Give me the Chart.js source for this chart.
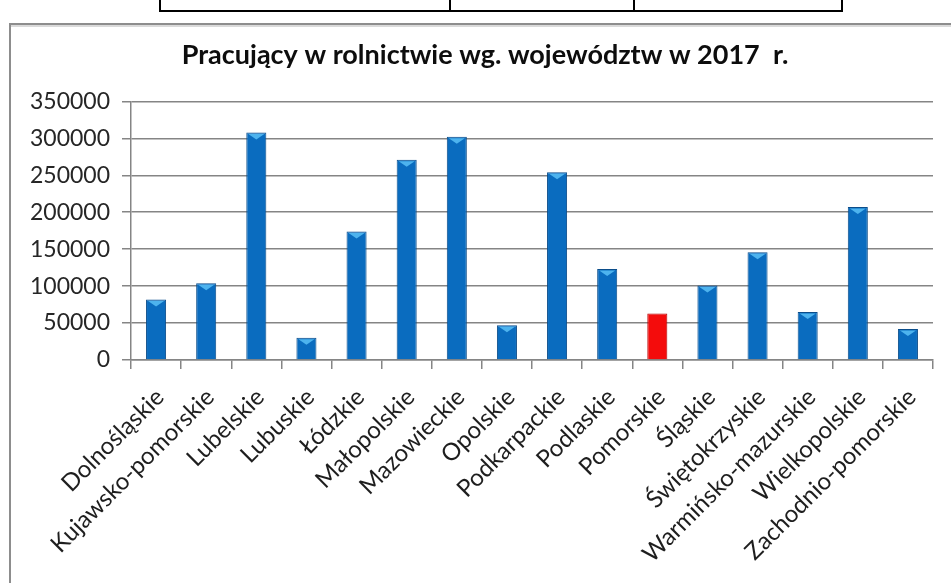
<!DOCTYPE html>
<html>
<head>
<meta charset="utf-8">
<script src="https://cdn.jsdelivr.net/npm/chart.js@4"></script>
<style>
  html, body { margin: 0; padding: 0; background: #fff; overflow: hidden; }
  .page { width: 951px; height: 583px; position: relative; overflow: hidden; }
  .tbl { position: absolute; top: 0; left: 159px; width: 680px; height: 10px;
         border: 2px solid #000; border-top: none; }
  .vl { position: absolute; top: 0; width: 2px; height: 12px; background: #000; }
  .frame-top { position: absolute; left: 9px; top: 23px; width: 942px; height: 2px;
               background: #8d8d8d; border-bottom: 2px solid #dadada; }
  .frame-left { position: absolute; left: 9px; top: 23px; width: 2px; height: 560px;
                background: #8d8d8d; }
  #myChart { position: absolute; left: 0; top: 0; }
</style>
</head>
<body>
<div class="page">
<div class="tbl"></div>
<div class="vl" style="left:449px"></div>
<div class="vl" style="left:633px"></div>
<div class="frame-top"></div>
<div class="frame-left"></div>
<canvas id="myChart" width="951" height="583"></canvas>
</div>
<script>
const regions = ['Dolnośląskie', 'Kujawsko-pomorskie', 'Lubelskie', 'Lubuskie', 'Łódzkie',
    'Małopolskie', 'Mazowieckie', 'Opolskie', 'Podkarpackie', 'Podlaskie', 'Pomorskie',
    'Śląskie', 'Świętokrzyskie', 'Warmińsko-mazurskie', 'Wielkopolskie', 'Zachodnio-pomorskie'];
const workers = [82000, 104000, 308000, 30000, 174000, 271000, 302000, 47000,
    254000, 123000, 63000, 101000, 146000, 65000, 207000, 42000];
const highlight = 'Pomorskie';
const yTicks = [0, 50000, 100000, 150000, 200000, 250000, 300000, 350000];

const barColors = regions.map(r => r === highlight ? '#f40c0c' : '#0a6cbf');
const edgeColors = regions.map(r => r === highlight ? '#b30000' : '#0b4d8a');

// light "cap" on top of blue bars, like the excel 3D look
const capPlugin = {
    id: 'caps',
    afterLayout(chart) {
        // padding.left only moves the title; let the y labels use the space
        chart.scales.y.left = 0;
    },
    afterDatasetsDraw(chart) {
        const ctx = chart.ctx;
        const meta = chart.getDatasetMeta(0);
        meta.data.forEach((bar, i) => {
            if (regions[i] === highlight) return;
            const half = bar.width / 2 - 2;
            ctx.save();
            ctx.fillStyle = '#4db3ee';
            ctx.beginPath();
            ctx.moveTo(bar.x - half, bar.y + 1.5);
            ctx.lineTo(bar.x + half, bar.y + 1.5);
            ctx.lineTo(bar.x, bar.y + 7);
            ctx.closePath();
            ctx.fill();
            ctx.restore();
        });
    }
};

const chart = document.getElementById('myChart');
const myChart = new Chart(chart, {
    type: 'bar',
    data: {
        labels: regions,
        datasets: [{
            data: workers,
            backgroundColor: barColors,
            borderColor: edgeColors,
            borderWidth: 1,
            barPercentage: 0.8,
            categoryPercentage: 0.5
        }]
    },
    options: {
        responsive: false,
        animation: false,
        devicePixelRatio: 1,
        layout: { padding: { left: 37, right: 18, top: 0, bottom: 0 } },
        plugins: {
            legend: false,
            tooltip: { enabled: false },
            title: {
                display: true,
                text: 'Pracujący w rolnictwie wg. województw w 2017  r.',
                color: '#0d0d0d',
                font: { family: 'Lato', size: 27, weight: 'bold' },
                padding: { top: 39, bottom: 30 }
            }
        },
        scales: {
            x: {
                grid: { drawOnChartArea: false, color: '#858585', lineWidth: 1.5, tickLength: 9 },
                border: { color: '#858585', width: 1.5 },
                ticks: {
                    color: '#1e1e1e',
                    font: { family: 'Lato', size: 24 },
                    minRotation: 45,
                    maxRotation: 45,
                    padding: 14,
                    labelOffset: 4
                },
                afterFit: scale => { scale.height = 223; }
            },
            y: {
                min: 0,
                max: 350000,
                afterBuildTicks: scale => { scale.ticks = yTicks.map(v => ({ value: v })); },
                grid: { color: '#858585', lineWidth: 1.5, tickLength: 9 },
                border: { color: '#858585', width: 1.5 },
                ticks: {
                    color: '#262626',
                    font: { family: 'Lato', size: 23 },
                    padding: 12,
                    callback: v => String(v)
                },
                afterFit: scale => { scale.width = 94; }
            }
        }
    },
    plugins: [capPlugin]
});
</script>
</body>
</html>
